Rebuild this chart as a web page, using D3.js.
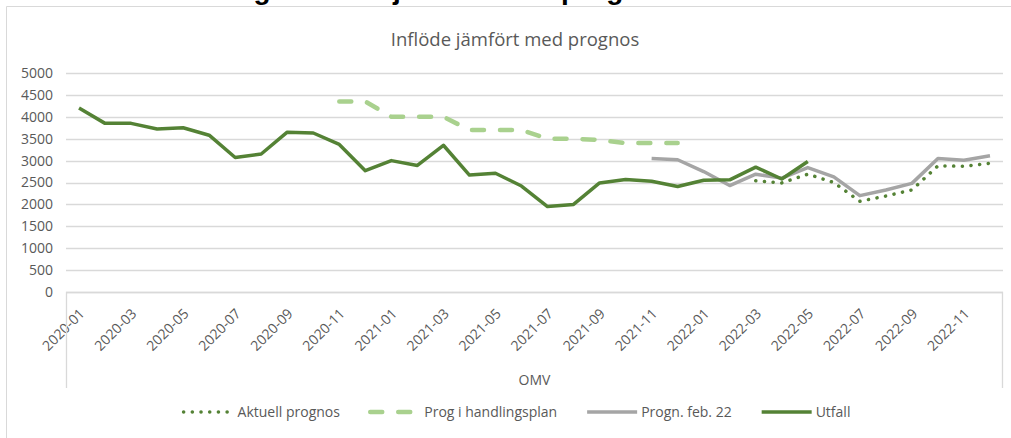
<!DOCTYPE html>
<meta charset="utf-8">
<script src="https://d3js.org/d3.v7.min.js"></script>
<style>
    body { margin: 0; background: #fff; }
    text { font-family: "Open Sans", sans-serif; fill: #595959; }
</style>
<div id="chart"></div>
<script>

    // categories (months) and tick labels
    var months = ["2020-01","2020-02","2020-03","2020-04","2020-05","2020-06","2020-07","2020-08","2020-09","2020-10","2020-11","2020-12",
                  "2021-01","2021-02","2021-03","2021-04","2021-05","2021-06","2021-07","2021-08","2021-09","2021-10","2021-11","2021-12",
                  "2022-01","2022-02","2022-03","2022-04","2022-05","2022-06","2022-07","2022-08","2022-09","2022-10","2022-11","2022-12"];
    var xTickLabels = ["2020-01","2020-03","2020-05","2020-07","2020-09","2020-11","2021-01","2021-03","2021-05","2021-07","2021-09","2021-11",
                       "2022-01","2022-03","2022-05","2022-07","2022-09","2022-11"];
    var yTicks = [0, 500, 1000, 1500, 2000, 2500, 3000, 3500, 4000, 4500, 5000];

    // series values, null = no value
    var aktuellPrognos = [null,null,null,null,null,null,null,null,null,null,null,null,
                          null,null,null,null,null,null,null,null,null,null,null,null,
                          null,null,2540,2490,2690,2500,2070,2190,2330,2880,2870,2940];
    var progHandlingsplan = [null,null,null,null,null,null,null,null,null,null,4350,4350,
                             4000,4000,4000,3700,3700,3700,3500,3500,3470,3400,3400,3400,
                             null,null,null,null,null,null,null,null,null,null,null,null];
    var prognFeb22 = [null,null,null,null,null,null,null,null,null,null,null,null,
                      null,null,null,null,null,null,null,null,null,null,3050,3020,
                      2750,2430,2690,2600,2840,2630,2200,2330,2480,3050,3010,3110];
    var utfall = [4200,3850,3850,3720,3750,3580,3070,3150,3650,3630,3370,2770,
                  3000,2890,3350,2670,2710,2420,1950,2000,2490,2570,2530,2410,
                  2550,2560,2850,2580,2980,null,null,null,null,null,null,null];

    var series = [
        {name: "Aktuell prognos", values: aktuellPrognos, color: "#548235", width: 3.5, dash: "0.1,8.6"},
        {name: "Prog i handlingsplan", values: progHandlingsplan, color: "#a9d18e", width: 4.5, dash: "12,16"},
        {name: "Progn. feb. 22", values: prognFeb22, color: "#a5a5a5", width: 3.5, dash: null},
        {name: "Utfall", values: utfall, color: "#548235", width: 3.5, dash: null}
    ];

    var W = 1011, H = 438;
    var plot = {left: 66, right: 1003, top: 73, bottom: 292};

    var svg = d3.select("#chart").append("svg")
        .attr("width", W)
        .attr("height", H);

    // slide header that is cut off by the top of the picture
    var header = svg.append("text")
        .attr("y", -1.5)
        .style("font-family", "'Liberation Sans', Arial, sans-serif")
        .style("font-weight", "bold")
        .style("font-size", "28px")
        .style("fill", "#000");
    header.append("tspan").attr("x", 129).text("Utveckling inflöde");
    header.append("tspan").attr("x", 393).text("jämfört med prognos");

    // chart area border
    svg.append("path")
        .attr("d", "M6.5," + H + "V6.5H" + W)
        .attr("fill", "none")
        .attr("stroke", "#d9d9d9")
        .attr("stroke-width", 1);

    // chart title
    svg.append("text")
        .attr("x", 515)
        .attr("y", 46)
        .attr("text-anchor", "middle")
        .style("font-size", "18.5px")
        .text("Inflöde jämfört med prognos");

    var x = d3.scaleBand()
        .domain(months)
        .range([plot.left, plot.right])
        .padding(0);

    var y = d3.scaleLinear()
        .domain([0, 5000])
        .range([plot.bottom, plot.top]);

    // gridlines
    svg.append("g")
        .selectAll("line")
        .data(yTicks)
        .enter()
        .append("line")
        .attr("x1", plot.left)
        .attr("x2", plot.right)
        .attr("y1", function (d) { return Math.round(y(d)) + 0.5; })
        .attr("y2", function (d) { return Math.round(y(d)) + 0.5; })
        .attr("stroke", "#d9d9d9")
        .attr("stroke-width", 1.3);

    // y axis labels
    var yAxis = svg.append("g")
        .attr("transform", "translate(" + (plot.left - 13) + ",0)")
        .call(d3.axisLeft(y).tickValues(yTicks).tickFormat(d3.format("d")).tickSize(0).tickPadding(0));
    yAxis.select(".domain").remove();
    yAxis.selectAll("text")
        .style("font-family", "'Open Sans', sans-serif")
        .style("font-size", "14px")
        .style("fill", "#595959");

    // x axis labels (rotated)
    var xAxis = svg.append("g")
        .attr("transform", "translate(0," + plot.bottom + ")")
        .call(d3.axisBottom(x).tickValues(xTickLabels).tickSize(0).tickPadding(0));
    xAxis.select(".domain").remove();
    xAxis.selectAll("text")
        .style("font-family", "'Open Sans', sans-serif")
        .style("font-size", "14px")
        .style("fill", "#595959")
        .attr("text-anchor", "end")
        .attr("dy", "0.35em")
        .attr("transform", "translate(3,19) rotate(-45)");

    // multi level axis: outer lines and group label
    svg.append("path")
        .attr("d", "M" + (plot.left + 0.5) + ",388V" + (plot.bottom + 0.5) + "H" + (plot.right - 0.5) + "V388")
        .attr("fill", "none")
        .attr("stroke", "#d9d9d9")
        .attr("stroke-width", 1.3);

    svg.append("text")
        .attr("x", (plot.left + plot.right) / 2)
        .attr("y", 385)
        .attr("text-anchor", "middle")
        .style("font-size", "14px")
        .text("OMV");

    // lines
    var line = d3.line()
        .defined(function (d) { return d != null; })
        .x(function (d, i) { return x(months[i]) + x.bandwidth() / 2; })
        .y(function (d) { return y(d); });

    svg.append("g")
        .selectAll("path")
        .data(series)
        .enter()
        .append("path")
        .attr("d", function (d) { return line(d.values); })
        .attr("fill", "none")
        .attr("stroke", function (d) { return d.color; })
        .attr("stroke-width", function (d) { return d.width; })
        .attr("stroke-dasharray", function (d) { return d.dash; })
        .attr("stroke-linecap", function (d) { return d.dash ? "round" : "butt"; })
        .attr("stroke-linejoin", "round");

    // legend
    var legendY = 412, symbolW = 50, itemGap = 30;
    var legend = svg.append("g");
    var items = legend.selectAll("g")
        .data(series)
        .enter()
        .append("g");

    items.append("line")
        .attr("x1", 0)
        .attr("x2", symbolW)
        .attr("y1", 0)
        .attr("y2", 0)
        .attr("stroke", function (d) { return d.color; })
        .attr("stroke-width", function (d) { return d.width; })
        .attr("stroke-dasharray", function (d) { return d.dash; })
        .attr("stroke-linecap", function (d) { return d.dash ? "round" : "butt"; });

    items.append("text")
        .attr("x", symbolW + 4)
        .attr("dy", "0.35em")
        .style("font-size", "14px")
        .text(function (d) { return d.name; });

    var widths = [];
    items.each(function () { widths.push(this.getBBox().width); });
    var total = d3.sum(widths) + itemGap * (widths.length - 1);
    var cursor = 517 - total / 2;
    items.attr("transform", function (d, i) {
        var t = "translate(" + cursor + "," + legendY + ")";
        cursor += widths[i] + itemGap;
        return t;
    });

</script>
